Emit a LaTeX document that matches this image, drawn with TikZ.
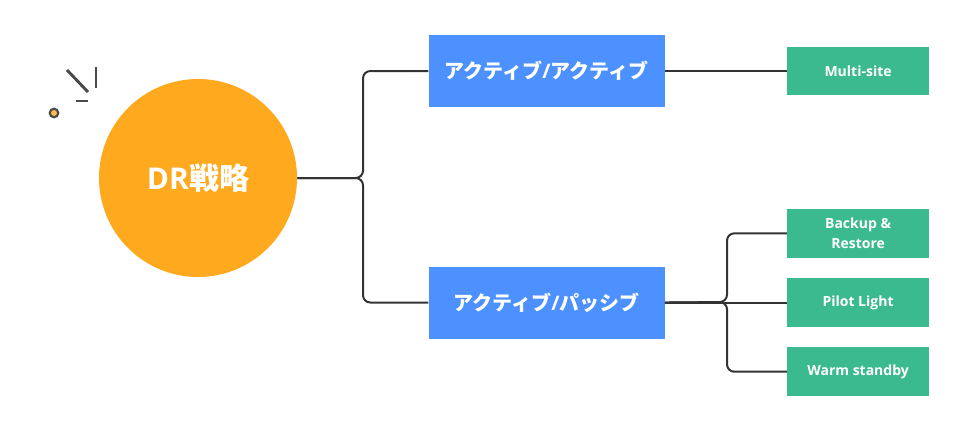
\documentclass[tikz,border=0pt]{standalone}
\usepackage{fontspec}
\setmainfont{Open Sans}
\newfontfamily\cjk{Noto Sans CJK JP}
\usetikzlibrary{positioning}
\definecolor{rootcol}{HTML}{FFA91E}
\definecolor{activecol}{HTML}{4C91FF}
\definecolor{sitecol}{HTML}{3CBA8F}
\definecolor{linecol}{HTML}{333333}
\definecolor{sparkcol}{HTML}{4A4A4A}

\begin{document}
\begin{tikzpicture}[
    x = 0.75pt, y = -0.75pt,
    rootnode/.style = {circle, fill=rootcol, text=white, minimum size=148.5pt, inner sep=0pt, font=\fontsize{22.5}{26}\selectfont\bfseries},
    activenode/.style = {rectangle, fill=activecol, text=white, minimum width=177pt, minimum height=54pt, inner sep=0pt, font=\fontsize{15}{18}\selectfont\bfseries},
    sitenode/.style = {rectangle, fill=sitecol, text=white, align=center, minimum width=106.5pt, minimum height=36.5pt, inner sep=0pt, font=\fontsize{10.5}{15}\selectfont\bfseries},
    pil/.style = {linecol, line width=1.5pt, rounded corners=5.5pt},
    spark/.style = {sparkcol, line width=2.2pt}
    ]
  \useasboundingbox (0,0) rectangle (962,439);

  \node[rootnode] (root) at (198,178) {DR{\cjk 戦略}} ;

  \node[activenode] (activeA) [right=98.25pt of root, yshift=80.25pt] {{\cjk アクティブ}/{\cjk アクティブ}} ;
  \node[activenode] (activeB) [below=119.25pt of activeA] {{\cjk アクティブ}/{\cjk パッシブ}} ;

  \node[sitenode] (multi) [right=91.5pt of activeA] {Multi-site} ;
  \node[sitenode] (pilot) [right=91.5pt of activeB] {Pilot Light} ;
  \node[sitenode] (backup) [above=15pt of pilot] {Backup \&\\Restore} ;
  \node[sitenode] (warm) [below=15pt of pilot] {Warm standby} ;

  \coordinate (rootbus) at (363,178) ;
  \coordinate (sitebus) at (727,302) ;

  \draw[pil] (root.east) -- (rootbus) |- (activeA.west) ;
  \draw[pil] (root.east) -- (rootbus) |- (activeB.west) ;
  \draw[pil] (activeA.east) -- (multi.west) ;
  \draw[pil] (activeB.east) -- (sitebus) |- (backup.west) ;
  \draw[pil] (activeB.east) -- (pilot.west) ;
  \draw[pil] (activeB.east) -- (sitebus) |- (warm.west) ;

  % sparkle next to the circle
  \draw[spark] (67,70) -- (88,92) ;
  \draw[spark] (96,67) -- (96,88) ;
  \draw[spark] (76,101) -- (88,101) ;
  \draw[spark, fill=rootcol!80!white, line width=1.6pt] (54,113) circle (3.2pt) ;
\end{tikzpicture}
\end{document}
